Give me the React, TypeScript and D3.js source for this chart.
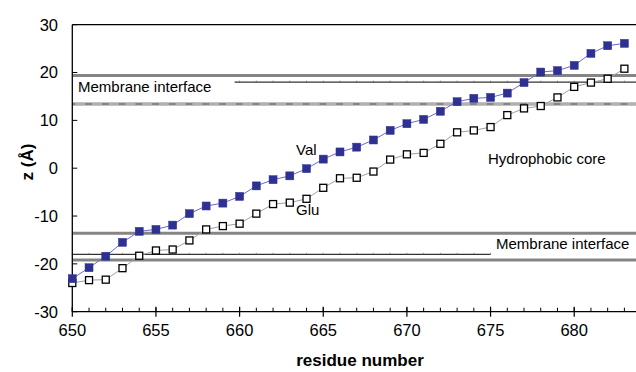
import React from "react";
import * as d3 from "d3";

const residues = [650,651,652,653,654,655,656,657,658,659,660,661,662,663,664,665,666,667,668,669,670,671,672,673,674,675,676,677,678,679,680,681,682,683];
const valZ = [-23.1,-20.8,-18.4,-15.5,-13.2,-12.8,-11.9,-9.5,-7.9,-7.3,-5.9,-3.7,-2.4,-1.6,-0.1,1.9,3.4,4.4,5.9,7.9,9.3,10.2,11.9,13.9,14.6,14.8,15.7,17.9,20.1,20.4,21.5,24.0,25.6,26.1];
const gluZ = [-24.0,-23.4,-23.3,-20.9,-18.3,-17.2,-17.0,-15.1,-12.8,-12.1,-11.6,-9.5,-7.5,-7.2,-6.4,-4.1,-2.1,-2.0,-0.7,1.8,2.9,3.2,5.1,7.5,7.9,8.6,11.1,12.5,13.0,14.8,17.0,17.9,18.7,20.8];
const yTicks = [-30,-20,-10,0,10,20,30];
const xMajorTicks = [650,655,660,665,670,675,680];
const interfaceLines = [19.4, 13.4, -13.6, -19.2];
const markerLines = [
  { z: 18.0, from: 659.7, to: 684 },
  { z: -18.0, from: 650, to: 675 },
];

const W = 636, H = 372;
const x = d3.scaleLinear().domain([650, 683]).range([72.3, 624.4]);
const y = d3.scaleLinear().domain([-30, 30]).range([311.7, 24.7]);

export default function App() {
  const minor = d3.range(650, 684, 1);
  const lineGen = d3.line<number>().x((_, i) => x(residues[i])).y((d) => y(d));
  const font = "'Liberation Sans', Arial, Helvetica, sans-serif";
  const right = W + 5;
  return (
    <svg width={W} height={H} style={{ position: "absolute", left: 0, top: 0, background: "#fff" }} fontFamily={font}>
      {/* top frame line */}
      <line x1={x(650)} x2={right} y1={y(30)} y2={y(30)} stroke="#000" strokeWidth={1.2} />
      {/* membrane interface gray lines */}
      {interfaceLines.map((z, i) => (
        <g key={i}>
          <line x1={x(650)} x2={right} y1={y(z)} y2={y(z)} stroke="#858585" strokeWidth={3} />
          {i === 1 && (
            <line x1={x(650)} x2={right} y1={y(z)} y2={y(z)} stroke="#b0b0b0" strokeWidth={2} strokeDasharray="10 6.73" strokeDashoffset={-3} />
          )}
        </g>
      ))}
      {/* thin marker lines with small ticks */}
      {markerLines.map((m, i) => (
        <g key={"m" + i}>
          <line x1={x(m.from)} x2={Math.min(x(m.to), right)} y1={y(m.z)} y2={y(m.z)} stroke="#000" strokeWidth={1} />
          {minor.filter((r) => r >= m.from && r <= m.to).map((r) => (
            <line key={r} x1={x(r)} x2={x(r)} y1={y(m.z) - 1.5} y2={y(m.z) + 0.5} stroke="#555" strokeWidth={0.6} />
          ))}
        </g>
      ))}
      {/* axes */}
      <line x1={x(650)} x2={x(650)} y1={y(30)} y2={y(-30)} stroke="#000" strokeWidth={1.3} />
      <line x1={x(650)} x2={right} y1={y(-30)} y2={y(-30)} stroke="#000" strokeWidth={1.3} />
      {yTicks.map((t) => (
        <g key={"y" + t}>
          <line x1={x(650)} x2={x(650) + 5} y1={y(t)} y2={y(t)} stroke="#000" strokeWidth={1} />
          <text x={58} y={y(t)} dy="0.36em" textAnchor="end" fontSize={16.5} fill="#000">{t}</text>
        </g>
      ))}
      {minor.map((r) => (
        <line key={"xm" + r} x1={x(r)} x2={x(r)} y1={y(-30) - 4} y2={y(-30)} stroke="#000" strokeWidth={1} />
      ))}
      {xMajorTicks.map((t) => (
        <g key={"x" + t}>
          <line x1={x(t)} x2={x(t)} y1={y(-30) - 5} y2={y(-30) + 5} stroke="#000" strokeWidth={1.2} />
          <text x={x(t)} y={336} textAnchor="middle" fontSize={16.5} fill="#000">{t}</text>
        </g>
      ))}
      {/* axis titles */}
      <text x={360} y={366} textAnchor="middle" fontSize={17} fontWeight="bold" fill="#000">residue number</text>
      <text transform="translate(33,162) rotate(-90)" textAnchor="middle" fontSize={17} fontWeight="bold" fill="#000">z (Å)</text>
      {/* series lines */}
      <path d={lineGen(gluZ) || ""} fill="none" stroke="#a0a0a0" strokeWidth={1} />
      <path d={lineGen(valZ) || ""} fill="none" stroke="#6a6ac8" strokeWidth={1} />
      {gluZ.map((z, i) => (
        <rect key={"g" + i} x={x(residues[i]) - 3.5} y={y(z) - 3.5} width={7} height={7} fill="#fff" stroke="#000" strokeWidth={1.3} />
      ))}
      {valZ.map((z, i) => (
        <rect key={"v" + i} x={x(residues[i]) - 4} y={y(z) - 4} width={8} height={8} fill="#2e3192" stroke="#2e3192" strokeWidth={0.5} />
      ))}
      {/* annotations */}
      <text x={78} y={91.5} fontSize={15} fill="#000">Membrane interface</text>
      <text x={496} y={249} fontSize={15} fill="#000">Membrane interface</text>
      <text x={488} y={164} fontSize={15} fill="#000">Hydrophobic core</text>
      <text x={296} y={155} fontSize={15} fill="#000">Val</text>
      <text x={296} y={215} fontSize={15} fill="#000">Glu</text>
    </svg>
  );
}
